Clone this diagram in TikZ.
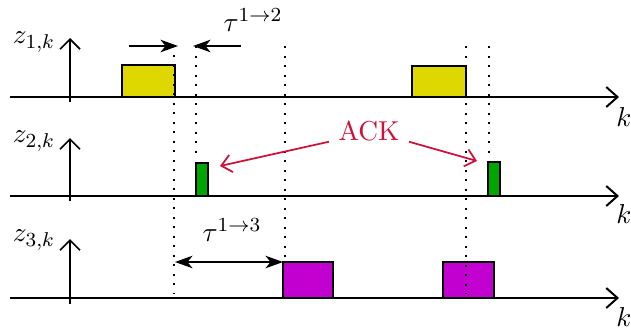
\documentclass[tikz,border=0pt,11pt]{standalone}
\usepackage{amsmath}
\usepackage{tikz}
\usetikzlibrary{positioning, arrows.meta, calc}

\definecolor{pktyellow}{RGB}{222,216,0}
\definecolor{pktgreen}{RGB}{0,166,0}
\definecolor{pktmagenta}{RGB}{194,0,208}
\definecolor{ackred}{RGB}{208,16,58}

\begin{document}
\begin{tikzpicture}[x=0.4pt, y=-0.4pt,
    axisline/.style={line width=0.8pt, -{Straight Barb[length=4.5pt, width=8pt, line width=0.8pt]}},
    yarrow/.style={line width=0.6pt, -{Straight Barb[length=4pt, width=8pt, line width=0.7pt]}},
    packet/.style={draw=black, line width=0.8pt},
    marker/.style={line width=0.8pt, dash pattern=on 0.8pt off 3pt},
    delay/.style={line width=0.7pt, -{Stealth[length=7pt, width=5pt, inset=2pt]}},
    twodelay/.style={line width=0.7pt, {Stealth[length=7pt, width=5pt, inset=2pt]}-{Stealth[length=7pt, width=5pt, inset=2pt]}},
    ackarrow/.style={draw=ackred, line width=0.7pt, -{Straight Barb[length=4pt, width=7pt, line width=0.7pt]}}
]
\useasboundingbox (0,0) rectangle (631,333);

% axes
\coordinate (a1s) at (10,97);  \coordinate (a1e) at (619,97);
\coordinate (a2s) at (10,196); \coordinate (a2e) at (619,196);
\coordinate (a3s) at (10,298); \coordinate (a3e) at (619,298);

\coordinate (v1s) at (70,102); \coordinate (v1e) at (70,38);
\coordinate (v2s) at (70,201); \coordinate (v2e) at (70,138);
\coordinate (v3s) at (70,304); \coordinate (v3e) at (70,239);

\draw[axisline] (a1s) -- (a1e);
\draw[axisline] (a2s) -- (a2e);
\draw[axisline] (a3s) -- (a3e);

\draw[yarrow] (v1s) -- (v1e);
\draw[yarrow] (v2s) -- (v2e);
\draw[yarrow] (v3s) -- (v3e);

\node(z1) at (34,42) {$z_{1,k}$};
\node(z2) at (34,141) {$z_{2,k}$};
\node(z3) at (34,240) {$z_{3,k}$};

\node(k1) at (624,117) {$k$};
\node(k2) at (624,214) {$k$};
\node(k3) at (624,317) {$k$};

% packets
\draw[packet, fill=pktyellow] (122,97) rectangle (175,65);
\draw[packet, fill=pktyellow] (412,97) rectangle (466,66);

\draw[packet, fill=pktgreen] (196,196) rectangle (208,163);
\draw[packet, fill=pktgreen] (488,196) rectangle (500,162);

\draw[packet, fill=pktmagenta] (283,298) rectangle (333,262);
\draw[packet, fill=pktmagenta] (443,298) rectangle (494,262);

% time markers
\coordinate (m1t) at (174,55);  \coordinate (m1b) at (174,294);
\coordinate (m2t) at (196,46);  \coordinate (m2b) at (196,160);
\coordinate (m3t) at (285,46);  \coordinate (m3b) at (285,258);
\coordinate (m4t) at (466,46);  \coordinate (m4b) at (466,294);
\coordinate (m5t) at (489,46);  \coordinate (m5b) at (489,158);

\draw[marker] (m1t) -- (m1b);
\draw[marker] (m2t) -- (m2b);
\draw[marker] (m3t) -- (m3b);
\draw[marker] (m4t) -- (m4b);
\draw[marker] (m5t) -- (m5b);

% delays
\coordinate (t12a) at (129,46); \coordinate (t12b) at (178,46);
\coordinate (t12c) at (241,46); \coordinate (t12d) at (193,46);
\draw[delay] (t12a) -- (t12b);
\draw[delay] (t12c) -- (t12d);
\node(tau12) at (253,20) {$\tau^{1\to2}$};

\coordinate (t13a) at (175,262); \coordinate (t13b) at (283,262);
\draw[twodelay] (t13a) -- (t13b);
\node(tau13) at (232,230) {$\tau^{1\to3}$};

% acknowledgements
\node[text=ackred](ack) at (369,131) {ACK};
\coordinate (g1) at (220,166);
\coordinate (g2) at (477,161);
\draw[ackarrow] (ack.-165) -- (g1);
\draw[ackarrow] (ack.-15) -- (g2);
\end{tikzpicture}
\end{document}
